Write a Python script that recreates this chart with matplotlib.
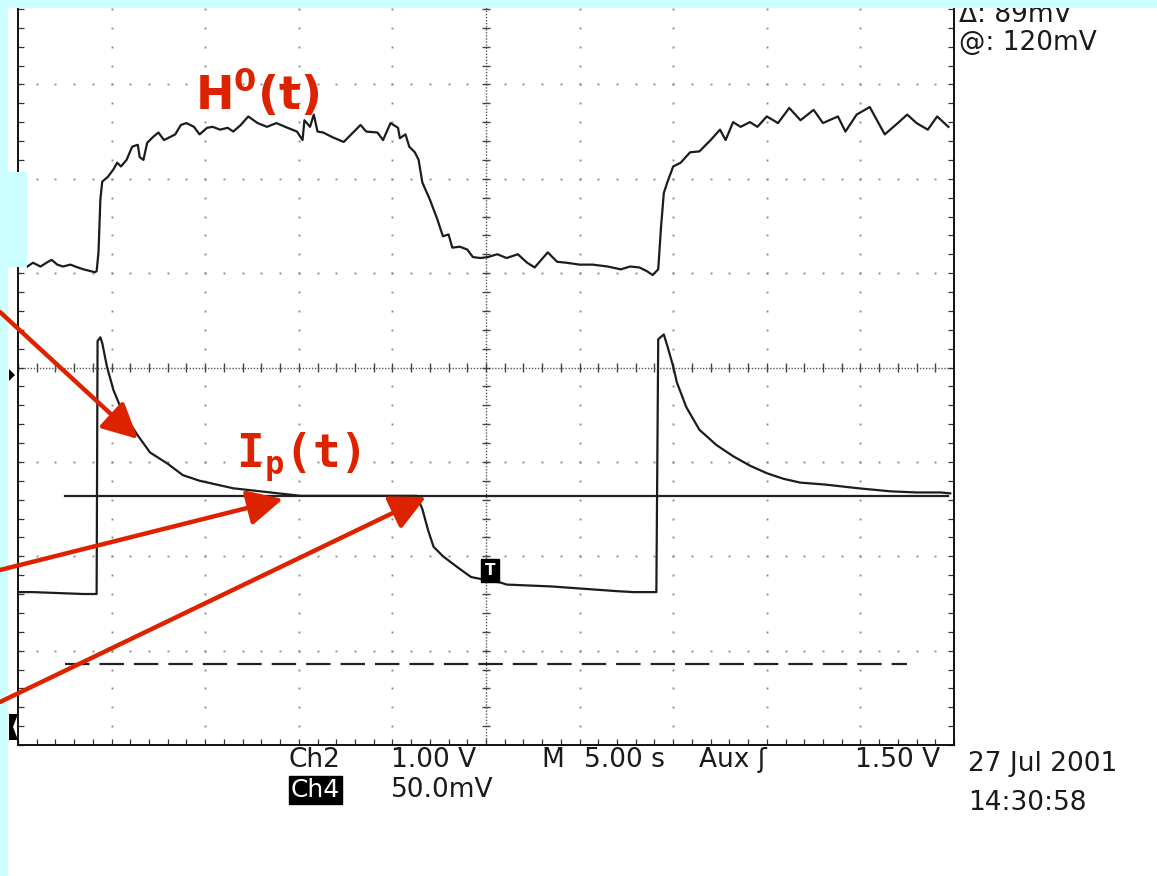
import numpy as np
import matplotlib.pyplot as plt
from matplotlib.patches import Rectangle, Polygon, FancyArrowPatch

W, H = 1157, 876

# scope settings
SEC_PER_DIV = 5.0
CH2_V_PER_DIV = 1.0
CH4_MV_PER_DIV = 50.0

# Ch2 : H0(t), volts relative to screen centre
h0_t = [0.5, 0.8, 1.2, 1.6, 1.8, 2.1, 2.4, 2.8, 3.2, 3.5, 3.9, 4.1, 4.2, 4.3, 4.4,
        4.5, 4.8, 5.1, 5.3, 5.5, 5.8, 6.1, 6.4, 6.5, 6.7, 6.9, 7.2, 7.5, 7.8, 8.1,
        8.4, 8.7, 9.0, 9.4, 9.7, 10.1, 10.4, 10.8, 11.2, 11.5, 11.9, 12.3, 12.8,
        13.3, 13.8, 14.4, 14.9, 15.2, 15.3, 15.6, 15.8, 16.0, 16.3, 16.8, 17.4,
        17.9, 18.3, 18.6, 19.2, 19.5, 19.9, 20.3, 20.4, 20.7, 20.9, 21.2, 21.4,
        21.6, 22.0, 22.4, 22.7, 23.0, 23.2, 23.6, 24.0, 24.3, 24.7, 25.1, 25.6,
        26.1, 26.7, 27.2, 27.6, 28.3, 28.8, 29.3, 30.0, 30.7, 31.5, 32.2, 32.7,
        33.2, 33.6, 33.9, 34.2, 34.35, 34.5, 34.7, 35.0, 35.4, 35.9, 36.4, 37.0,
        37.5, 37.8, 38.2, 38.6, 39.1, 39.5, 40.0, 40.6, 41.2, 41.8, 42.5, 43.0,
        43.8, 44.2, 44.8, 45.5, 46.3, 47.0, 47.5, 48.0, 48.6, 49.1, 49.7]
h0_v = [1.07, 1.11, 1.07, 1.12, 1.14, 1.09, 1.07, 1.09, 1.06, 1.04, 1.02, 1.01, 1.02,
        1.22, 1.78, 1.97, 2.02, 2.10, 2.17, 2.13, 2.20, 2.34, 2.36, 2.23, 2.20, 2.38,
        2.44, 2.49, 2.41, 2.44, 2.47, 2.57, 2.59, 2.55, 2.47, 2.54, 2.55, 2.52, 2.54,
        2.50, 2.57, 2.66, 2.59, 2.55, 2.59, 2.54, 2.50, 2.41, 2.62, 2.55, 2.68, 2.50,
        2.49, 2.44, 2.39, 2.49, 2.57, 2.50, 2.49, 2.41, 2.59, 2.54, 2.43, 2.47, 2.34,
        2.28, 2.20, 1.96, 1.78, 1.57, 1.39, 1.41, 1.27, 1.28, 1.25, 1.17, 1.16, 1.17,
        1.20, 1.16, 1.20, 1.11, 1.06, 1.22, 1.12, 1.11, 1.09, 1.09, 1.07, 1.04, 1.07,
        1.06, 1.02, 0.98, 1.04, 1.49, 1.85, 1.97, 2.13, 2.17, 2.28, 2.29, 2.41, 2.52,
        2.41, 2.60, 2.55, 2.60, 2.55, 2.66, 2.59, 2.75, 2.62, 2.73, 2.59, 2.66, 2.50,
        2.68, 2.76, 2.47, 2.59, 2.68, 2.59, 2.52, 2.66, 2.55]

# Ch4 : Ip(t), mV relative to screen centre
ip_t = [0.0, 0.8, 3.5, 4.2, 4.25, 4.4, 4.5, 4.75, 5.1, 5.6, 6.4, 7.05, 8.0, 8.8,
        9.7, 10.6, 11.5, 12.4, 13.3, 14.2, 15.1, 20.0, 21.3, 21.6, 21.9, 22.2,
        22.7, 23.5, 24.2, 24.7, 25.8, 26.1, 28.5, 29.9, 32.0, 32.9, 34.1, 34.2,
        34.5, 34.7, 35.0, 35.2, 35.7, 36.4, 37.3, 38.2, 39.1, 40.0, 40.9, 41.8,
        43.1, 44.9, 46.6, 48.0, 49.3, 49.8]
ip_mv = [-119, -119, -120, -120, 14, 16, 13, 0.5, -12, -24, -36, -45, -51, -57,
         -60, -62, -64, -65, -66, -67, -68, -68, -68, -75, -86, -95, -100, -106,
         -111, -112, -114, -115, -116, -117, -118.5, -119, -119, 15, 17.5, 11,
         0.5, -8, -21, -33, -41, -47, -52, -56, -59, -61, -62, -64, -65.6, -66.2,
         -66.2, -66.7]

# horizontal bar cursors on Ch4 (mV), and their time span (s)
cursor_solid_mv = -68
cursor_dash_mv = -157
cursor_solid_span = [2.5, 49.7]
cursor_dash_span = [2.5, 47.5]

RED = '#dd2200'
CYAN = '#ccffff'


def fp(x, y):
    # figure pixel (from top-left) -> figure fraction
    return (x / W, 1 - y / H)


fig = plt.figure(figsize=(W / 100, H / 100), dpi=100)
fig.patch.set_facecolor('white')

ax = fig.add_axes([18 / W, 131 / H, 936 / W, 755 / H])
ax.set_xlim(0, 10 * SEC_PER_DIV)
ax.set_ylim(-4, 4)
ax.set_facecolor('white')
for s in ax.spines.values():
    s.set_linewidth(1.4)
    s.set_color('#111111')
ax.set_xticks(np.arange(0, 50.1, 5))
ax.set_xticks(np.arange(0, 50.1, 1), minor=True)
ax.set_yticks(np.arange(-4, 4.1, 1))
ax.set_yticks(np.arange(-4, 4.01, 0.2), minor=True)
ax.tick_params(which='both', direction='in', top=True, right=True,
               labelbottom=False, labelleft=False, color='#333333',
               length=4, width=0.9)

# graticule dots
ys = np.arange(-4, 4.01, 0.2)
xs = np.arange(0, 50.01, 1.0)
for k in range(1, 10):
    if k == 5:
        continue
    ax.plot(np.full_like(ys, k * SEC_PER_DIV), ys, ls='none', marker='s', ms=1.6,
            mec='none', color='#939393', zorder=1)
for k in range(-3, 4):
    if k == 0:
        continue
    ax.plot(xs, np.full_like(xs, k), ls='none', marker='s', ms=1.6,
            mec='none', color='#939393', zorder=1)

# centre cross with ticks
ax.axhline(0, color='#555555', lw=1.0, ls=(0, (1, 1.2)), zorder=1)
ax.axvline(25, color='#555555', lw=1.0, ls=(0, (1, 1.2)), zorder=1)
ax.vlines(xs, -0.045, 0.045, color='#444444', lw=1, zorder=1)
ax.hlines(ys, 25 - 0.22, 25 + 0.22, color='#444444', lw=1, zorder=1)

# traces
ax.plot(h0_t, np.array(h0_v) / CH2_V_PER_DIV, color='#1c1c1c', lw=1.6, zorder=3)
ax.plot(ip_t, np.array(ip_mv) / CH4_MV_PER_DIV, color='#1c1c1c', lw=1.6, zorder=3)
ax.plot(cursor_solid_span, [cursor_solid_mv / CH4_MV_PER_DIV] * 2,
        color='#222222', lw=1.6, zorder=2)
ax.plot(cursor_dash_span, [cursor_dash_mv / CH4_MV_PER_DIV] * 2,
        color='#222222', lw=1.6, dashes=(11, 4.5), zorder=2)

# trigger marker
ax.text(25.2, -2.15, 'T', color='white', fontsize=11, fontweight='bold',
        ha='center', va='center', zorder=4,
        bbox=dict(boxstyle='square,pad=0.25', fc='black', ec='black'))

# readout text
txt = dict(fontsize=19, color='#1a1a1a', va='baseline', family='DejaVu Sans', zorder=2)
fig.text(*fp(289, 767), 'Ch2', **txt)
fig.text(*fp(391, 767), '1.00 V', **txt)
fig.text(*fp(541, 767), 'M', **txt)
fig.text(*fp(584, 767), '5.00 s', **txt)
fig.text(*fp(699, 767), 'Aux ʃ', **txt)
fig.text(*fp(855, 767), '1.50 V', **txt)
fig.text(*fp(968, 771), '27 Jul 2001', **txt)
fig.text(*fp(968, 810), '14:30:58', **txt)
fig.text(*fp(391, 797), '50.0mV', **txt)
fig.text(*fp(291, 797), 'Ch4', fontsize=18, color='white', va='baseline',
         bbox=dict(boxstyle='square,pad=0.08', fc='black', ec='black'), zorder=2)
fig.text(*fp(959, 22), 'Δ: 89mV', **txt)
fig.text(*fp(959, 50), '@: 120mV', **txt)

# channel markers on the left edge
fig.add_artist(Polygon([fp(9, 369), fp(15, 375), fp(9, 381)], closed=True,
                       transform=fig.transFigure, fc='black', ec='none', zorder=6))
fig.add_artist(Polygon([fp(9, 714), fp(18, 714), fp(13, 727), fp(18, 740), fp(9, 740)],
                       closed=True, transform=fig.transFigure, fc='black',
                       ec='none', zorder=6))

# cyan slide background around the screenshot
for x0, y0, x1, y1 in [(0, 0, W, 8), (0, 0, 8, H), (0, 172, 27, 267)]:
    fig.add_artist(Rectangle(fp(x0, y1), (x1 - x0) / W, (y1 - y0) / H,
                             transform=fig.transFigure, fc=CYAN, ec='none', zorder=5))

# red labels
fig.text(*fp(195, 109), r'$\mathbf{H^0(t)}$', fontsize=33, color=RED,
         va='baseline', math_fontfamily='dejavusans', zorder=8)
plt.rcParams['mathtext.bf'] = 'DejaVu Sans Mono:bold'
plt.rcParams['mathtext.rm'] = 'DejaVu Sans Mono'
plt.rcParams['mathtext.it'] = 'DejaVu Sans Mono'
fig.text(*fp(236, 468), r'$\mathbf{I_p(t)}$', fontsize=33, color=RED,
         va='baseline', math_fontfamily='custom', zorder=8)

# red arrows
for (x0, y0), (x1, y1) in [((0, 312), (138, 439)),
                           ((0, 570), (283, 499)),
                           ((0, 702), (426, 497))]:
    fig.add_artist(FancyArrowPatch(fp(x0, y0), fp(x1, y1), transform=fig.transFigure,
                                   arrowstyle='-|>,head_length=0.9,head_width=0.45',
                                   mutation_scale=24, lw=3.2, color=RED,
                                   shrinkA=0, shrinkB=0, zorder=9))

fig.savefig('out.png', dpi=100)
